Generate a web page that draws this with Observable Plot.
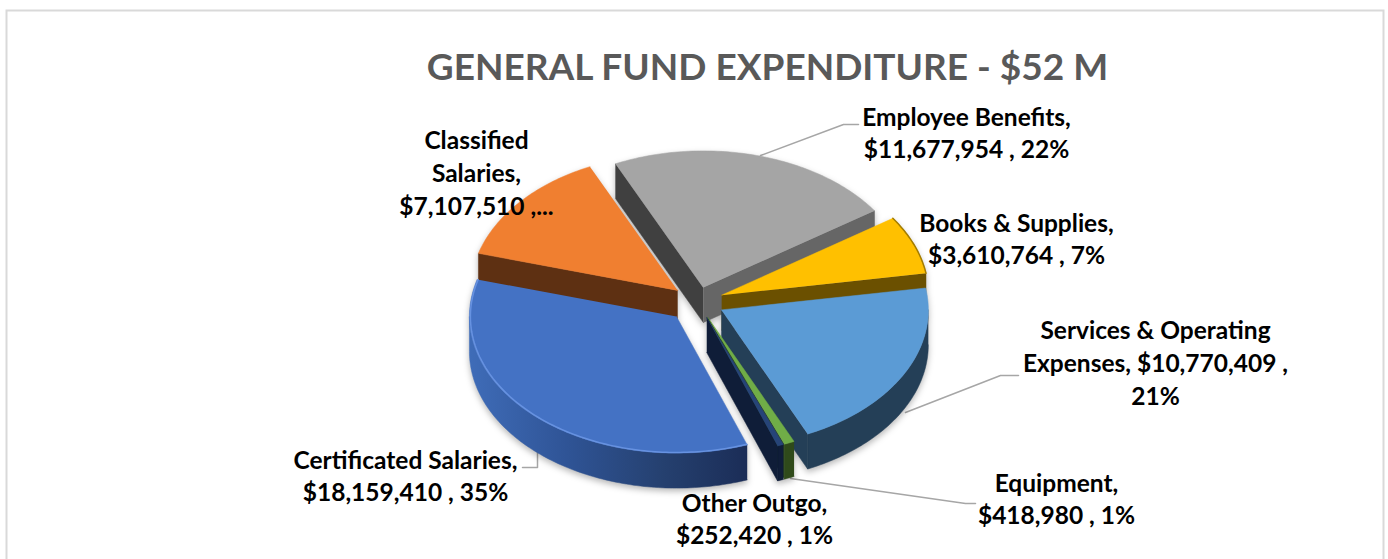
<!DOCTYPE html>
<html><head><meta charset="utf-8">
<script src="https://cdn.jsdelivr.net/npm/d3@7"></script>
<script src="https://cdn.jsdelivr.net/npm/@observablehq/plot@0.6"></script>
<style>
html,body{margin:0;padding:0;background:#fff;overflow:hidden}
svg{display:block}
.slices{filter:drop-shadow(0 3px 3px rgba(0,0,0,.28))}
</style></head><body>
<div id="chart"></div>
<script>
// ---- data ----
const categories = ["Certificated Salaries","Classified Salaries","Employee Benefits","Books & Supplies","Services & Operating Expenses","Equipment","Other Outgo"];
const values = [18159410,7107510,11677954,3610764,10770409,418980,252420];
const labels = [
  "Certificated Salaries,\n$18,159,410 , 35%",
  "Classified\nSalaries,\n$7,107,510 ,...",
  "Employee Benefits,\n$11,677,954 , 22%",
  "Books & Supplies,\n$3,610,764 , 7%",
  "Services & Operating\nExpenses, $10,770,409 ,\n21%",
  "Equipment,\n$418,980 , 1%",
  "Other Outgo,\n$252,420 , 1%"
];
const title = "GENERAL FUND EXPENDITURE - $52 M";
const topColors = ["#4472c4","#f07f30","#a5a5a5","#ffc000","#5b9bd5","#70ad47","#264478"];
const rimColors = ["url(#blueRim)","#5e3012","#666666","#6b5000","#243f57","#2f4a1a","#0f1d38"];
const startFace = ["#1b2d57","#5e3012","#404040","#6b5000","#243f57","#2f4a1a","#0f1d38"];
const endFace   = ["#1b2d57","#5e3012","#666666","#6b5000","#243f57","#2f4a1a","#0f1d38"];

// ---- pie layout ----
const cx = 697, cy = 301, R = 207, squash = 0.66, depth = 35, startAngle = 160;
const explode = [31,26,22,26,27,26,26];
const paintOrder = [2,1,3,4,5,6,0];
const labelX = [405,476,966,1016,1155,1056,754];
const labelY = [474,171,131,237,361,497,517];

const total = d3.sum(values);
const rad = d => d * Math.PI / 180;
let acc = startAngle;
const slices = values.map((v,i) => {
  const a = acc, b = acc + v / total * 360; acc = b;
  const mid = rad((a+b)/2), e = explode[i];
  return {i, a, b, ax: cx + e*Math.sin(mid), ay: cy - squash*e*Math.cos(mid)};
});
const at = (s, deg, dz=0, r=R) => ({x: s.ax + r*Math.sin(rad(deg)), y: s.ay - squash*r*Math.cos(rad(deg)) + dz});
const arc = (s, from, to, dz=0, r=R) => {
  const n = Math.max(2, Math.ceil(Math.abs(to-from)));
  return d3.range(n+1).map(j => at(s, from + (to-from)*j/n, dz, r));
};
const rows = [];
const add = (id, fill, pts) => pts.forEach(p => rows.push({id, fill, x:p.x, y:p.y}));
const apex = (s, dz=0) => ({x:s.ax, y:s.ay+dz});
for (const i of paintOrder) {
  const s = slices[i];
  // outer wall: only the part turned towards the viewer
  for (const [lo,hi] of [[90,270],[450,630]]) {
    const f = Math.max(s.a,lo), t = Math.min(s.b,hi);
    if (f < t) add(`rim${i}${lo}`, rimColors[i], [...arc(s,f,t), ...arc(s,t,f,depth)]);
  }
  // cut faces
  if (Math.cos(rad(s.a-90)) < 0)
    add(`start${i}`, startFace[i], [apex(s), at(s,s.a), at(s,s.a,depth), apex(s,depth)]);
  if (Math.cos(rad(s.b+90)) < 0)
    add(`end${i}`, endFace[i], [apex(s), at(s,s.b), at(s,s.b,depth), apex(s,depth)]);
  add(`top${i}`, topColors[i], [apex(s), ...arc(s,s.a,s.b)]);
}
// bevel highlights
const blueBevel = arc(slices[0], slices[0].a, slices[0].b, 0, R-1);
const yellowEdge = arc(slices[3], slices[3].a, slices[3].b, 0, R);

const leaders = [
  {id:0, pts:[[537,452],[537,467],[522,467]]},
  {id:2, pts:[[760,155],[843,124],[858,124]]},
  {id:4, pts:[[905,412],[1000,375],[1018,375]]},
  {id:5, pts:[[790,478],[965,503],[975,503]]}
].flatMap(l => l.pts.map(([x,y]) => ({id:l.id,x,y})));

const font = "Lato, 'Open Sans', sans-serif";
const chart = Plot.plot({
  width: 1388, height: 559, margin: 0,
  x: {domain:[0,1388], range:[0,1388], axis:null},
  y: {domain:[0,559], range:[0,559], axis:null},
  color: {type:"identity"},
  marks: [
    Plot.frame({stroke:"#d9d9d9", strokeWidth:2, insetLeft:6, insetTop:10, insetRight:5, insetBottom:-20}),
    Plot.line(leaders, {x:"x", y:"y", z:"id", stroke:"#a6a6a6", strokeWidth:1.5}),
    Plot.line(rows, {x:"x", y:"y", z:"id", fill:"fill", stroke:"fill", strokeWidth:0.5, curve:"linear", className:"slices"}),
    Plot.line(blueBevel, {x:"x", y:"y", stroke:"#6f9ae8", strokeWidth:1.5, strokeOpacity:0.8}),
    Plot.line(yellowEdge, {x:"x", y:"y", stroke:"#a37c00", strokeWidth:1.5}),
    Plot.text([title], {x:[767], y:[68], text:d=>d, fontFamily:font, fontWeight:700, fontSize:37, fill:"#595959"}),
    Plot.text(labels, {x:(d,i)=>labelX[i], y:(d,i)=>labelY[i], text:d=>d, fontFamily:font, fontWeight:700, fontSize:24.5, lineHeight:1.33, fill:"#000", textAnchor:"middle"})
  ]
});
// gradient for the front wall of the largest slice
const defs = d3.select(chart).insert("defs",":first-child");
const g = defs.append("linearGradient").attr("id","blueRim");
[[0,"#3f6cb8"],[0.35,"#2f5496"],[0.7,"#25406f"],[1,"#1b2d57"]].forEach(([o,c]) => g.append("stop").attr("offset",o).attr("stop-color",c));
document.getElementById("chart").append(chart);
</script>
</body></html>
